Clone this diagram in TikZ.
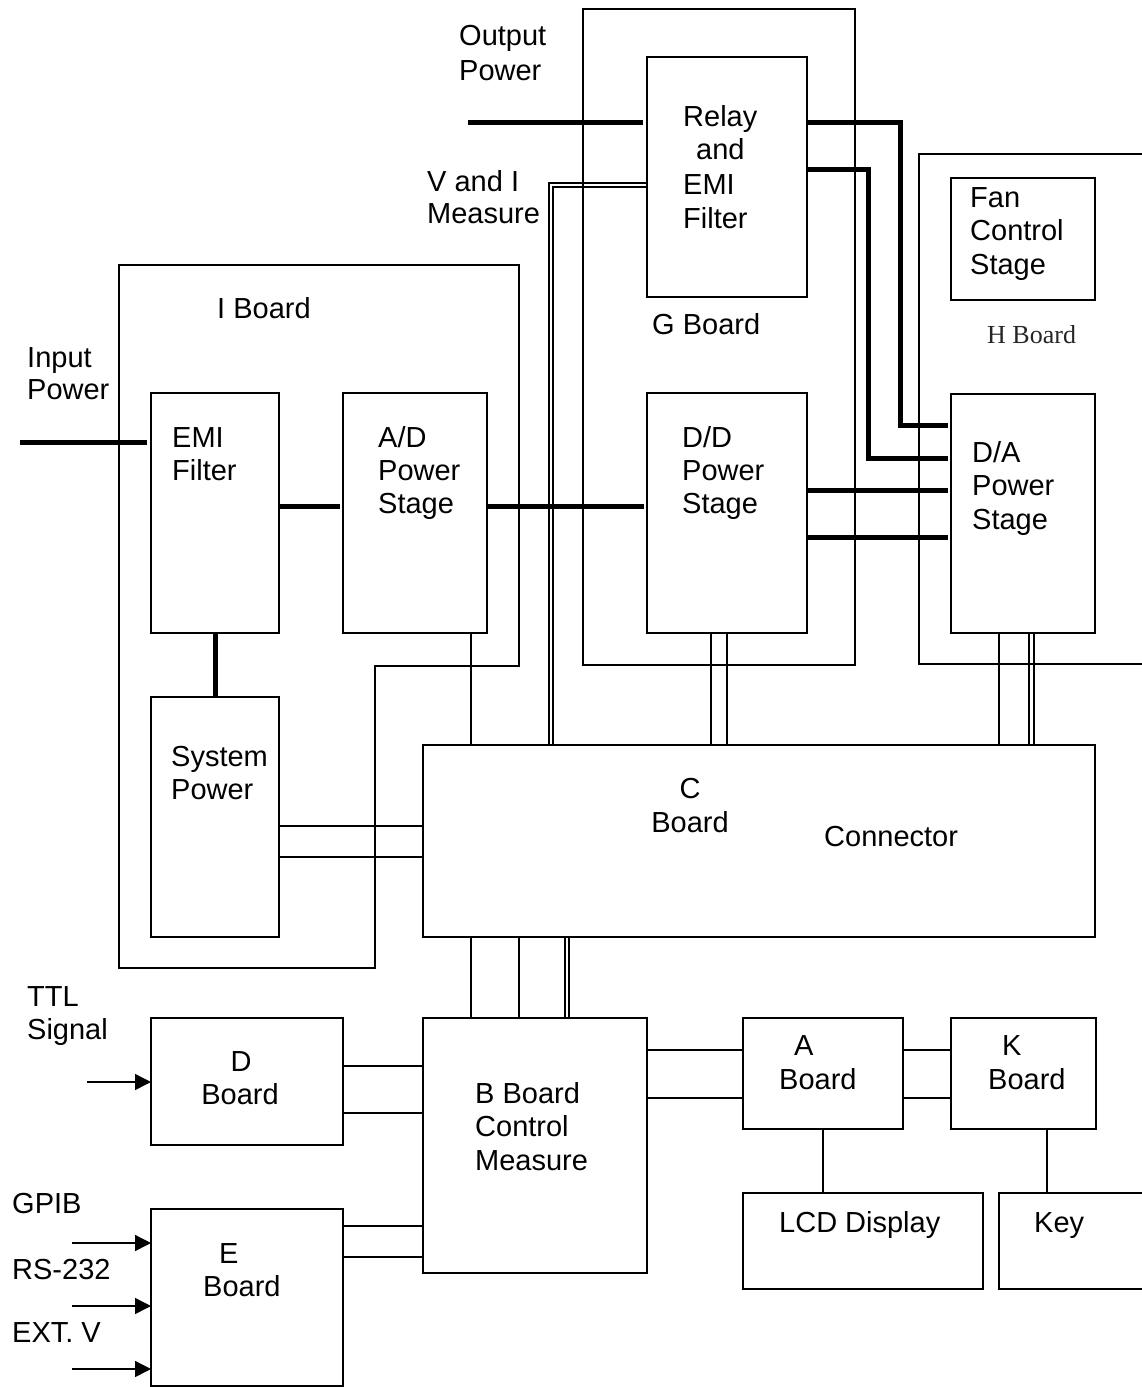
\documentclass[tikz,border=0pt]{standalone}
\usepackage{fontspec}
\setmainfont{Liberation Sans}
\newfontfamily\hserif{Liberation Serif}
\usetikzlibrary{arrows.meta}
\newcommand\labfont{\fontsize{29}{34}\selectfont}
\newcommand\mybox[5]{\node[boxst, minimum width={(#4-#2)*1pt}, minimum height={(#5-#3)*1pt}] (#1) at (#2,#3) {};}
\tikzset{
  boxst/.style={draw, line width=1.4pt, inner sep=0pt, outer sep=0pt, anchor=north west},
  txt/.style={anchor=base west, inner sep=0pt, font=\labfont},
  ctxt/.style={anchor=base, inner sep=0pt, font=\labfont},
  thinln/.style={line width=1.4pt},
  heavy/.style={line width=5pt, line join=miter},
  arr/.style={line width=1.4pt, -{Triangle[length=16pt,width=16pt]}}
}
\begin{document}
\begin{tikzpicture}[x=1pt,y=-1pt]
\useasboundingbox (0,0) rectangle (1141,1387);
% boards (outlines)
\mybox{gboard}{583}{9}{855}{665}
\mybox{hboard}{919}{154}{1175}{664}
\draw[thinln] (119,265) -- (519,265) -- (519,666) -- (375,666) -- (375,968) -- (119,968) -- cycle;
% blocks
\mybox{relay}{647}{57}{807}{297}
\mybox{fan}{951}{178}{1095}{300}
\mybox{da}{951}{394}{1095}{633}
\mybox{dd}{647}{393}{807}{633}
\mybox{emi}{151}{393}{279}{633}
\mybox{ad}{343}{393}{487}{633}
\mybox{sys}{151}{697}{279}{937}
\mybox{cb}{423}{745}{1095}{937}
\mybox{db}{151}{1018}{343}{1145}
\mybox{eb}{151}{1209}{343}{1386}
\mybox{bb}{423}{1018}{647}{1273}
\mybox{ab}{743}{1018}{903}{1129}
\mybox{kb}{951}{1018}{1096}{1129}
\mybox{lcd}{743}{1193}{983}{1289}
\mybox{key}{999}{1193}{1175}{1289}
% free ends
\coordinate (inp) at (20,442);
\coordinate (outp) at (468,122);
\coordinate (ttl) at (87,1082);
\coordinate (gpib) at (72,1243);
\coordinate (rs) at (72,1306);
\coordinate (extv) at (72,1369);
% heavy power lines
\draw[heavy] (inp) -- ([xshift=-4pt]emi.west |- inp);
\draw[heavy] (outp) -- ([xshift=-4pt]relay.west |- outp);
\draw[heavy] (emi.east |- 0,506) -- ([xshift=-3pt]ad.west |- 0,506);
\draw[heavy] (ad.east |- 0,506) -- ([xshift=-3pt]dd.west |- 0,506);
\draw[heavy] (emi.south) -- (sys.north);
\draw[heavy] (relay.east |- 0,122) -- (900,122) -- (900,425) -- ([xshift=-3pt]da.west |- 0,425);
\draw[heavy] (relay.east |- 0,169) -- (868,169) -- (868,458) -- ([xshift=-3pt]da.west |- 0,458);
\draw[heavy] (dd.east |- 0,490) -- ([xshift=-3pt]da.west |- 0,490);
\draw[heavy] (dd.east |- 0,537) -- ([xshift=-3pt]da.west |- 0,537);
% V and I measure double line
\draw[thinln] (relay.west |- 0,183) -- (549,183) -- (549,183 |- cb.north);
\draw[thinln] (relay.west |- 0,187) -- (553,187) -- (553,187 |- cb.north);
% to C board
\draw[thinln] (ad.south -| 471,0) -- (cb.north -| 471,0);
\draw[thinln] (dd.south -| 711,0) -- (cb.north -| 711,0);
\draw[thinln] (dd.south -| 727,0) -- (cb.north -| 727,0);
\draw[thinln] (da.south -| 999,0) -- (cb.north -| 999,0);
\draw[thinln] (da.south -| 1029,0) -- (cb.north -| 1029,0);
\draw[thinln] (da.south -| 1034,0) -- (cb.north -| 1034,0);
\draw[thinln] (sys.east |- 0,826) -- (cb.west |- 0,826);
\draw[thinln] (sys.east |- 0,857) -- (cb.west |- 0,857);
% C to B
\draw[thinln] (cb.south -| 471,0) -- (bb.north -| 471,0);
\draw[thinln] (cb.south -| 519,0) -- (bb.north -| 519,0);
\draw[thinln] (cb.south -| 565,0) -- (bb.north -| 565,0);
\draw[thinln] (cb.south -| 569,0) -- (bb.north -| 569,0);
% D, E to B
\draw[thinln] (db.east |- 0,1066) -- (bb.west |- 0,1066);
\draw[thinln] (db.east |- 0,1113) -- (bb.west |- 0,1113);
\draw[thinln] (eb.east |- 0,1226) -- (bb.west |- 0,1226);
\draw[thinln] (eb.east |- 0,1257) -- (bb.west |- 0,1257);
% B to A to K
\draw[thinln] (bb.east |- 0,1050) -- (ab.west |- 0,1050);
\draw[thinln] (bb.east |- 0,1098) -- (ab.west |- 0,1098);
\draw[thinln] (ab.east |- 0,1050) -- (kb.west |- 0,1050);
\draw[thinln] (ab.east |- 0,1098) -- (kb.west |- 0,1098);
\draw[thinln] (ab.south -| 823,0) -- (lcd.north -| 823,0);
\draw[thinln] (kb.south -| 1047,0) -- (key.north -| 1047,0);
% input arrows
\draw[arr] (ttl) -- (db.west |- ttl);
\draw[arr] (gpib) -- (eb.west |- gpib);
\draw[arr] (rs) -- (eb.west |- rs);
\draw[arr] (extv) -- (eb.west |- extv);
% texts
\node[txt] (t1) at (459,45) {Output};
\node[txt] (t2) at (459,80) {Power};
\node[txt] (t3) at (683,126) {Relay};
\node[txt] (t4) at (696,159) {and};
\node[txt] (t5) at (683,194) {EMI};
\node[txt] (t6) at (683,228) {Filter};
\node[txt] (t7) at (427,191) {V and I};
\node[txt] (t8) at (427,223) {Measure};
\node[txt] (t9) at (652,334) {G Board};
\node[txt] (t10) at (970,207) {Fan};
\node[txt] (t11) at (970,240) {Control};
\node[txt] (t12) at (970,274) {Stage};
\node[anchor=base west, inner sep=0pt, font={\hserif\fontsize{26}{30}\selectfont}, text=black!85] (t13) at (987,343) {H Board};
\node[txt] (t14) at (217,318) {I Board};
\node[txt] (t15) at (27,367) {Input};
\node[txt] (t16) at (27,399) {Power};
\node[txt] (t17) at (172,447) {EMI};
\node[txt] (t18) at (172,480) {Filter};
\node[txt] (t19) at (378,447) {A/D};
\node[txt] (t20) at (378,480) {Power};
\node[txt] (t21) at (378,513) {Stage};
\node[txt] (t22) at (682,447) {D/D};
\node[txt] (t23) at (682,480) {Power};
\node[txt] (t24) at (682,513) {Stage};
\node[txt] (t25) at (972,462) {D/A};
\node[txt] (t26) at (972,495) {Power};
\node[txt] (t27) at (972,529) {Stage};
\node[txt] (t28) at (171,766) {System};
\node[txt] (t29) at (171,799) {Power};
\node[ctxt] (t30) at (690,798) {C};
\node[ctxt] (t31) at (690,832) {Board};
\node[txt] (t32) at (824,846) {Connector};
\node[txt] (t33) at (27,1006) {TTL};
\node[txt] (t34) at (27,1039) {Signal};
\node[ctxt] (t35) at (241,1071) {D};
\node[ctxt] (t36) at (240,1104) {Board};
\node[txt] (t37) at (219,1263) {E};
\node[txt] (t38) at (203,1296) {Board};
\node[txt] (t39) at (12,1213) {GPIB};
\node[txt] (t40) at (12,1279) {RS-232};
\node[txt] (t41) at (12,1342) {EXT. V};
\node[txt] (t42) at (475,1103) {B Board};
\node[txt] (t43) at (475,1136) {Control};
\node[txt] (t44) at (475,1170) {Measure};
\node[txt] (t45) at (794,1055) {A};
\node[txt] (t46) at (779,1089) {Board};
\node[txt] (t47) at (1002,1055) {K};
\node[txt] (t48) at (988,1089) {Board};
\node[txt] (t49) at (779,1232) {LCD Display};
\node[txt] (t50) at (1034,1232) {Key};
\end{tikzpicture}
\end{document}
